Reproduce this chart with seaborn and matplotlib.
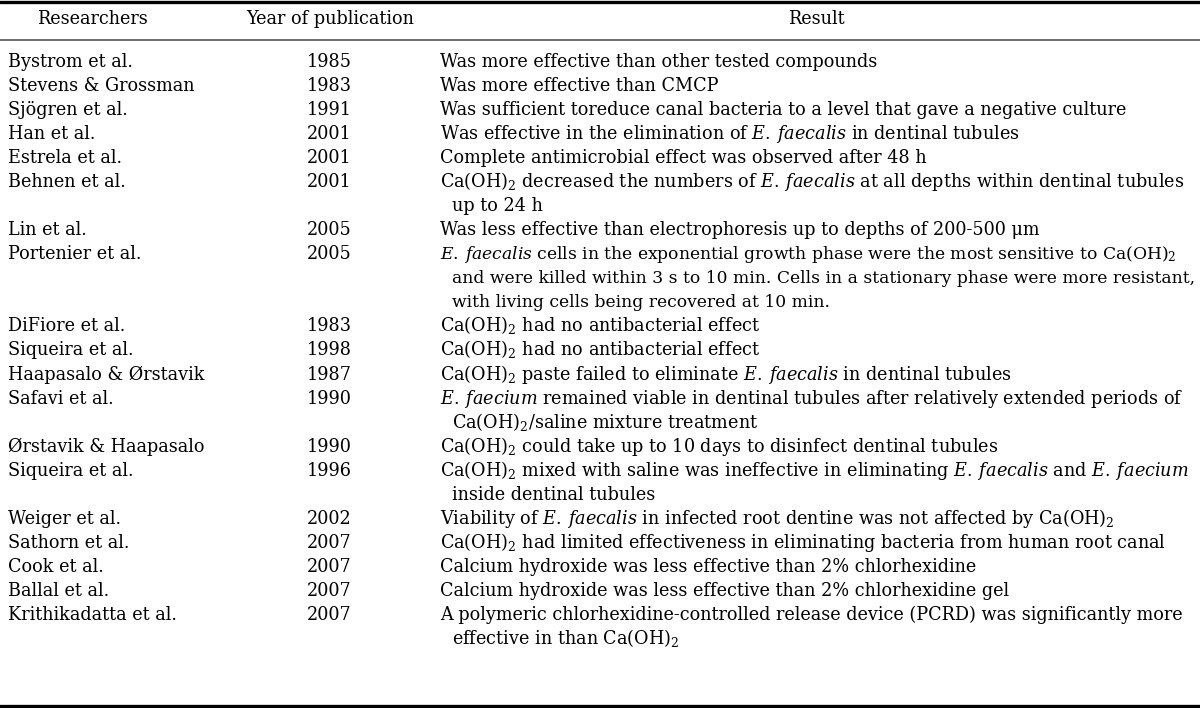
import matplotlib
matplotlib.use("Agg")
import matplotlib.pyplot as plt
import seaborn as sns

# table content
headers = ["Researchers", "Year of publication", "Result"]

researchers = [
    "Bystrom et al.", "Stevens & Grossman", "Sjögren et al.", "Han et al.",
    "Estrela et al.", "Behnen et al.", "Lin et al.", "Portenier et al.",
    "DiFiore et al.", "Siqueira et al.", "Haapasalo & Ørstavik", "Safavi et al.",
    "Ørstavik & Haapasalo", "Siqueira et al.", "Weiger et al.", "Sathorn et al.",
    "Cook et al.", "Ballal et al.", "Krithikadatta et al.",
]

years = [
    "1985", "1983", "1991", "2001", "2001", "2001", "2005", "2005", "1983",
    "1998", "1987", "1990", "1990", "1996", "2002", "2007", "2007", "2007", "2007",
]

EF = r"$\mathit{E.\:faecalis}$"
EFM = r"$\mathit{E.\:faecium}$"
CA = r"Ca(OH)$_2$"

results = [
    ["Was more effective than other tested compounds"],
    ["Was more effective than CMCP"],
    ["Was sufficient toreduce canal bacteria to a level that gave a negative culture"],
    [f"Was effective in the elimination of {EF} in dentinal tubules"],
    ["Complete antimicrobial effect was observed after 48 h"],
    [f"{CA} decreased the numbers of {EF} at all depths within dentinal tubules",
     "up to 24 h"],
    ["Was less effective than electrophoresis up to depths of 200-500 μm"],
    [f"{EF} cells in the exponential growth phase were the most sensitive to {CA}",
     "and were killed within 3 s to 10 min. Cells in a stationary phase were more resistant,",
     "with living cells being recovered at 10 min."],
    [f"{CA} had no antibacterial effect"],
    [f"{CA} had no antibacterial effect"],
    [f"{CA} paste failed to eliminate {EF} in dentinal tubules"],
    [f"{EFM} remained viable in dentinal tubules after relatively extended periods of",
     f"{CA}/saline mixture treatment"],
    [f"{CA} could take up to 10 days to disinfect dentinal tubules"],
    [f"{CA} mixed with saline was ineffective in eliminating {EF} and {EFM}",
     "inside dentinal tubules"],
    [f"Viability of {EF} in infected root dentine was not affected by {CA}"],
    [f"{CA} had limited effectiveness in eliminating bacteria from human root canal"],
    ["Calcium hydroxide was less effective than 2% chlorhexidine"],
    ["Calcium hydroxide was less effective than 2% chlorhexidine gel"],
    ["A polymeric chlorhexidine-controlled release device (PCRD) was significantly more",
     f"effective in than {CA}"],
]

sns.set_style("white")
plt.rcParams["font.family"] = ["DejaVu Serif"]
plt.rcParams["mathtext.fontset"] = "dejavuserif"
plt.rcParams["mathtext.default"] = "regular"
plt.rcParams["text.color"] = "black"

fig = plt.figure(figsize=(12, 7.08), dpi=100)
ax = fig.add_axes([0, 0, 1, 1])
ax.set_xlim(0, 1200)
ax.set_ylim(708, 0)
ax.axis("off")

fs = 12.7
line_h = 24.04
first_y = 61
base = 6  # baseline offset from row centre
narrow_rows = {7}  # rows printed slightly condensed in the source

# header
ax.text(92, 18 + base, headers[0], ha="center", va="baseline", fontsize=fs)
ax.text(330, 18 + base, headers[1], ha="center", va="baseline", fontsize=fs)
ax.text(816, 18 + base, headers[2], ha="center", va="baseline", fontsize=fs)

# rules
ax.axhline(1.5, color="black", lw=2.4)
ax.axhline(40, color="#555555", lw=1.2)
ax.axhline(706, color="black", lw=2.4)

line = 0
for i, (name, year, res) in enumerate(zip(researchers, years, results)):
    y = first_y + line * line_h + base
    ax.text(8, y, name, ha="left", va="baseline", fontsize=fs)
    ax.text(329, y, year, ha="center", va="baseline", fontsize=fs)
    size = fs * 0.97 if i in narrow_rows else fs
    for k, txt in enumerate(res):
        ax.text(440 if k == 0 else 452, y + k * line_h, txt,
                ha="left", va="baseline", fontsize=size)
    line += len(res)

fig.savefig("out.png", dpi=100)
